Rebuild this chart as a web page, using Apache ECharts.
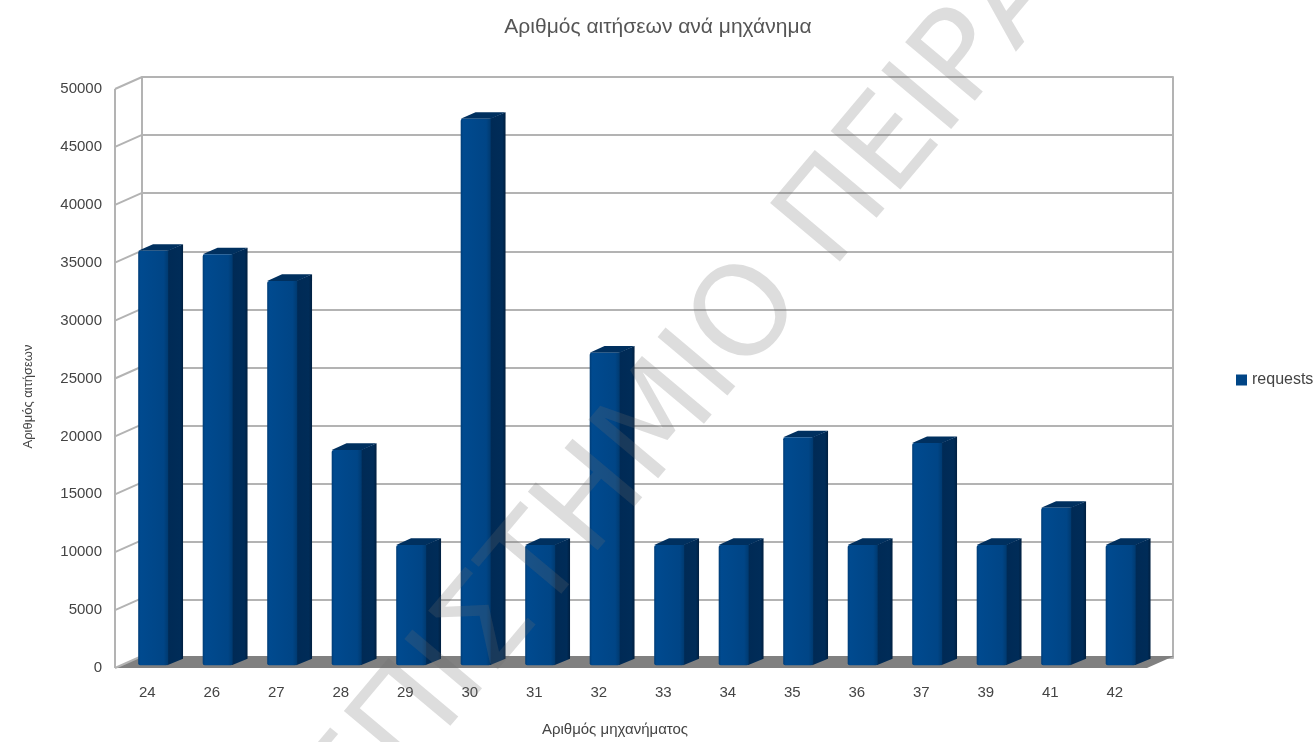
<!DOCTYPE html>
<html><head><meta charset="utf-8">
<script src="https://cdn.jsdelivr.net/npm/echarts@6/dist/echarts.min.js"></script>
<style>html,body{margin:0;padding:0;background:#fff}#c{width:1316px;height:742px}</style>
</head><body><div id="c"></div>
<script>
const categories = ['24','26','27','28','29','30','31','32','33','34','35','36','37','39','41','42'];
const requests = [35800,35500,33200,18600,10400,47200,10400,27000,10400,10400,19700,10400,19200,10400,13600,10400];
const yTicks = [0,5000,10000,15000,20000,25000,30000,35000,40000,45000,50000];
const titleText = 'Αριθμός αιτήσεων ανά μηχάνημα';
const yName = 'Αριθμός αιτήσεων';
const xName = 'Αριθμός μηχανήματος';
const seriesName = 'requests';
const watermarkText = 'ΠΑΝΕΠΙΣΤΗΜΙΟ ΠΕΙΡΑΙΩΣ';

const DX = 27, DY = -12;           // depth of the 3D box (screen px)
const FONT = 'Liberation Sans';
const GRID_COLOR = '#b3b3b3';
const TEXT_COLOR = '#444';

const chart = echarts.init(document.getElementById('c'), null, {renderer: 'canvas'});

function frameItem(params, api) {
  const v = api.value(1);
  const p = api.coord([0, v]);
  const bw = api.size([1, 0])[0];
  const x = p[0] - bw / 2;
  const children = [{
    type: 'line', shape: {x1: x, y1: p[1], x2: x + DX, y2: p[1] + DY},
    style: {stroke: GRID_COLOR, lineWidth: 2}
  }];
  if (params.dataIndex === 0) {
    const right = api.coord([categories.length - 1, 0])[0] + bw / 2;
    children.unshift({
      type: 'polygon',
      shape: {points: [[x, p[1]], [right, p[1]], [right + DX, p[1] + DY], [x + DX, p[1] + DY]]},
      style: {fill: '#808080'}
    });
    const topY = api.coord([0, yTicks[yTicks.length - 1]])[1];
    children.push({
      type: 'line', shape: {x1: x, y1: p[1], x2: x, y2: topY},
      style: {stroke: GRID_COLOR, lineWidth: 2}
    });
  }
  return {type: 'group', children};
}

function barItem(params, api) {
  const i = api.value(0), v = api.value(1);
  const top = api.coord([i, v]);
  const base = api.coord([i, 0]);
  const bw = api.size([1, 0])[0];
  const f = 0.22, sd = 0.55;
  const w = bw * 0.465;
  const cx = top[0] + DX * f;
  const x0 = cx - w / 2, x1 = cx + w / 2;
  const yt = top[1] + DY * f, yb = base[1] + DY * f;
  const sx = DX * sd, sy = DY * sd;
  return {type: 'group', children: [
    {type: 'polygon', shape: {points: [[x1 - 1, yt], [x1 + sx, yt + sy], [x1 + sx, yb + sy], [x1 - 1, yb]]},
     style: {fill: new echarts.graphic.LinearGradient(0, 0, 1, 0, [
       {offset: 0, color: '#002a55'}, {offset: 0.8, color: '#002c58'}, {offset: 1, color: '#001f40'}])}},
    {type: 'polygon', shape: {points: [[x0, yt], [x1, yt], [x1 + sx, yt + sy], [x0 + sx, yt + sy]]},
     style: {fill: '#00305f'}},
    {type: 'rect', shape: {x: x0, y: yt, width: w, height: yb - yt, r: [2, 0, 2, 2]},
     style: {fill: new echarts.graphic.LinearGradient(0, 0, 1, 0, [
       {offset: 0, color: '#003c76'}, {offset: 0.08, color: '#004a8f'},
       {offset: 0.85, color: '#004586'}, {offset: 1, color: '#003a70'}])}}
  ]};
}

chart.setOption({
  animation: false,
  backgroundColor: '#fff',
  textStyle: {fontFamily: FONT},
  title: {
    text: titleText, left: 'center', top: 12,
    textStyle: {fontFamily: FONT, fontSize: 21, fontWeight: 'normal', color: '#555'}
  },
  legend: {
    data: [{name: seriesName, icon: 'rect'}], padding: 0,
    left: 1236, top: 372, itemWidth: 11, itemHeight: 11, itemGap: 4,
    textStyle: {fontFamily: FONT, fontSize: 16, color: TEXT_COLOR}
  },
  grid: [
    {left: 115, right: 169, top: 89, bottom: 72},
    {left: 142, right: 143, top: 77, bottom: 84}
  ],
  xAxis: [
    {gridIndex: 0, type: 'category', data: categories,
     axisLine: {show: false}, axisTick: {show: false},
     axisLabel: {margin: 17, fontSize: 15, color: TEXT_COLOR, fontFamily: FONT},
     name: xName, nameLocation: 'middle', nameGap: 54,
     nameTextStyle: {fontSize: 15, color: TEXT_COLOR, fontFamily: FONT, padding: [0, 32, 0, 0]}},
    {gridIndex: 1, type: 'category', data: categories, show: false}
  ],
  yAxis: [
    {gridIndex: 0, type: 'value', min: 0, max: 50000, interval: 5000,
     axisLine: {show: false}, axisTick: {show: false}, splitLine: {show: false},
     axisLabel: {margin: 13, fontSize: 15, color: TEXT_COLOR, fontFamily: FONT,
                 formatter: v => String(v)},
     name: yName, nameLocation: 'middle', nameGap: 80, nameRotate: 90,
     nameTextStyle: {fontSize: 13, color: TEXT_COLOR, fontFamily: FONT, padding: [0, 36, 0, 0]}},
    {gridIndex: 1, type: 'value', min: 0, max: 50000, interval: 5000,
     axisLabel: {show: false}, axisTick: {show: false},
     axisLine: {show: true, lineStyle: {color: GRID_COLOR, width: 2}},
     splitLine: {show: true, lineStyle: {color: GRID_COLOR, width: 2}}},
    {gridIndex: 1, type: 'value', position: 'right', min: 0, max: 50000, interval: 5000,
     axisLabel: {show: false}, axisTick: {show: false}, splitLine: {show: false},
     axisLine: {show: true, lineStyle: {color: GRID_COLOR, width: 2}}}
  ],
  graphic: [{
    type: 'text', x: 668, y: 416, rotation: 50 * Math.PI / 180, z: 100, silent: true,
    style: {text: watermarkText, fontSize: 125, fontFamily: 'DejaVu Sans',
            fill: 'rgba(110,110,110,0.23)', align: 'center', verticalAlign: 'middle',
            textAlign: 'center', textVerticalAlign: 'middle'}
  }],
  series: [
    {type: 'custom', name: 'frame', xAxisIndex: 0, yAxisIndex: 0, silent: true, z: 1,
     renderItem: frameItem, data: yTicks.map(v => [0, v])},
    {type: 'custom', name: seriesName, xAxisIndex: 0, yAxisIndex: 0, z: 2,
     itemStyle: {color: '#004586'}, encode: {x: 0, y: 1},
     renderItem: barItem, data: requests.map((v, i) => [i, v])}
  ]
});
</script></body></html>
